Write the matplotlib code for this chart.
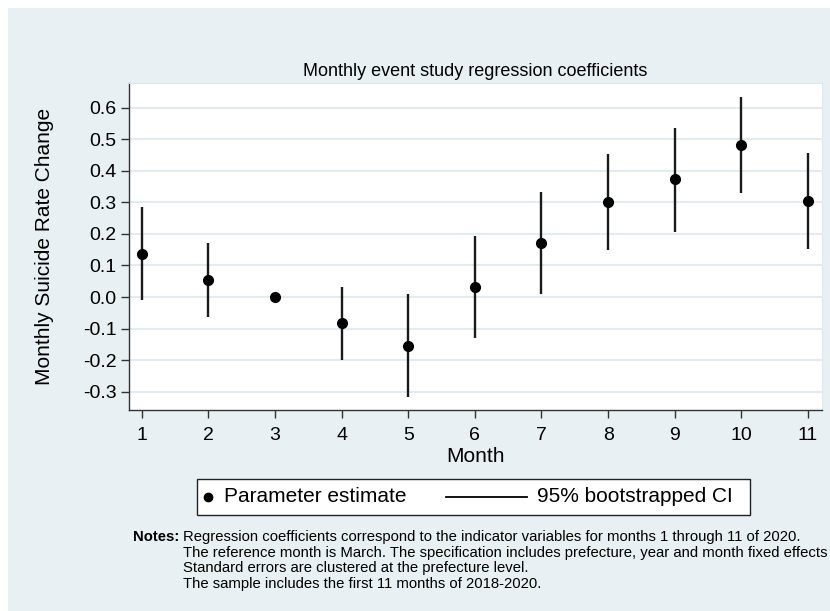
import matplotlib.pyplot as plt
from matplotlib.lines import Line2D
from matplotlib.patches import Rectangle

plt.rcParams['font.family'] = ['Liberation Sans', 'DejaVu Sans']

# event study estimates by month of 2020 (March = reference month)
months = [1, 2, 3, 4, 5, 6, 7, 8, 9, 10, 11]
coef = [0.137, 0.054, 0.0, -0.083, -0.154, 0.031, 0.172, 0.302, 0.373, 0.483, 0.304]
ci_low = [-0.010, -0.062, 0.0, -0.200, -0.318, -0.131, 0.011, 0.149, 0.207, 0.329, 0.151]
ci_high = [0.285, 0.170, 0.0, 0.033, 0.008, 0.193, 0.334, 0.453, 0.534, 0.635, 0.455]
yticks = [-0.3, -0.2, -0.1, 0.0, 0.1, 0.2, 0.3, 0.4, 0.5, 0.6]
legend_labels = ['Parameter estimate', '95% bootstrapped CI']

notes = ["Regression coefficients correspond to the indicator variables for months 1 through 11 of 2020.",
         "The reference month is March. The specification includes prefecture, year and month fixed effects",
         "Standard errors are clustered at the prefecture level.",
         "The sample includes the first 11 months of 2018-2020."]

bg = '#e8f0f3'
grid = '#dde9ee'
W, H = 830, 611


def fx(px):
    return px / W


def fy(py):
    return 1 - py / H


fig = plt.figure(figsize=(W / 100, H / 100), dpi=100)
fig.patches.append(Rectangle((fx(8), 0), 1 - fx(8), fy(8), transform=fig.transFigure,
                             facecolor=bg, edgecolor='none', zorder=-10))

ax = fig.add_axes([fx(129), fy(410), fx(822 - 129), (410 - 83) / H])
ax.set_facecolor('white')

# confidence intervals (skip the reference month)
for m, lo, hi in zip(months, ci_low, ci_high):
    if hi > lo:
        ax.vlines(m, lo, hi, color='#1a1a1a', lw=1.7, zorder=3)
ax.plot(months, coef, 'o', color='black', ms=7, zorder=4)

ax.set_xlim(0.81, 11.21)
ax.set_ylim(-0.358, 0.678)
ax.set_xticks(months)
ax.set_yticks(yticks)
ax.set_yticklabels([f'{v:.1f}' for v in yticks])
ax.yaxis.grid(True, color=grid, lw=1.2)
ax.set_axisbelow(True)
ax.tick_params(axis='both', labelsize=14, color='#333333', width=1, length=6, pad=3)
ax.tick_params(axis='x', pad=6)

for side in ['top', 'right']:
    ax.spines[side].set_color(grid)
for side in ['left', 'bottom']:
    ax.spines[side].set_color('#333333')
    ax.spines[side].set_linewidth(1)

ax.set_title('Monthly event study regression coefficients', fontsize=13, pad=5)
ax.set_xlabel('Month', fontsize=15)
ax.xaxis.set_label_coords(0.5, (410 - 457) / 327)
ax.xaxis.label.set_va('center')
ax.set_ylabel('Monthly Suicide Rate Change', fontsize=15)
ax.yaxis.set_label_coords((45 - 129) / 693, 0.5)
ax.yaxis.label.set_va('center')

# legend box below the axes
fig.patches.append(Rectangle((fx(197), fy(515)), fx(750 - 197), (515 - 479) / H,
                             transform=fig.transFigure, facecolor='white',
                             edgecolor='#222222', lw=1))
ly = fy(497)
fig.add_artist(Line2D([fx(208)], [ly], marker='o', color='black', ms=6,
                      transform=fig.transFigure))
fig.text(fx(224), ly, legend_labels[0], fontsize=15, va='center')
fig.add_artist(Line2D([fx(446), fx(527)], [ly, ly], color='black', lw=1.3,
                      transform=fig.transFigure))
fig.text(fx(537), ly, legend_labels[1], fontsize=15, va='center')

fig.text(fx(133), fy(537), 'Notes:', fontsize=10.7, fontweight='bold', va='center')
for i, line in enumerate(notes):
    fig.text(fx(183), fy(537 + 15.6 * i), line, fontsize=10.7, va='center')

fig.savefig('out.png', dpi=100)
